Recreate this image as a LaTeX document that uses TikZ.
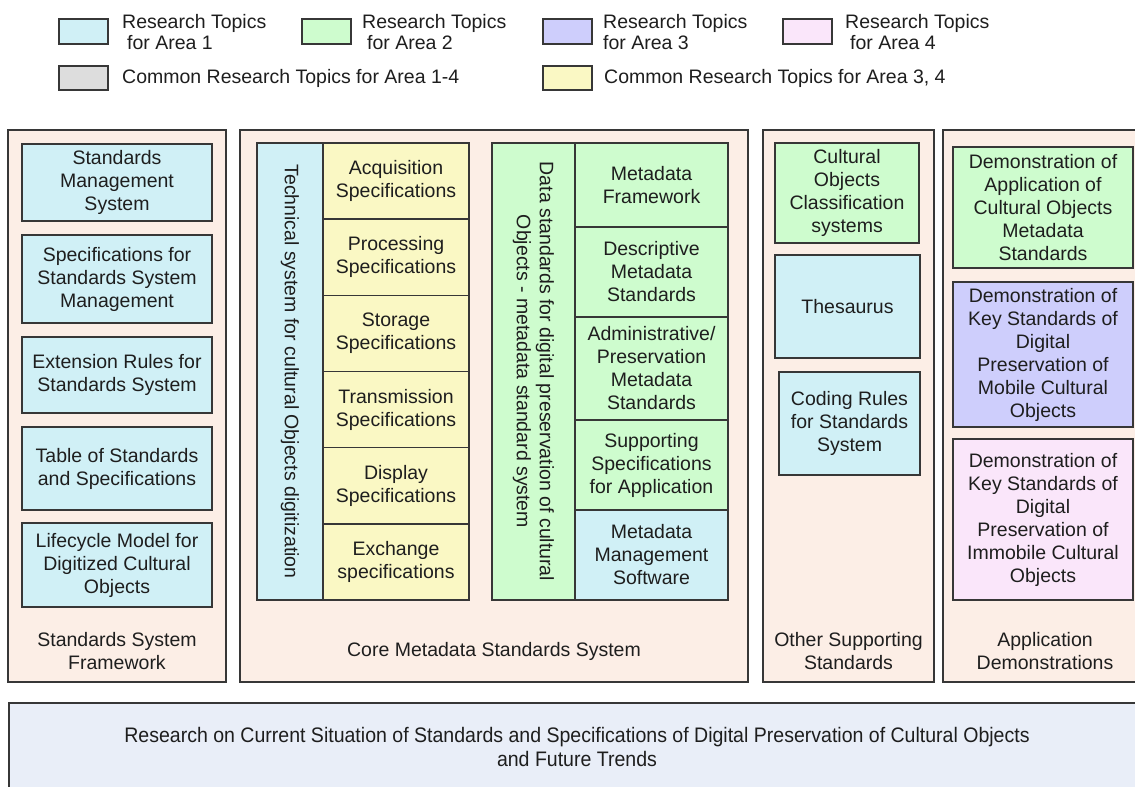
\documentclass[tikz,border=0pt]{standalone}
\usepackage{fontspec}
\setmainfont{Liberation Sans}
\newfontfamily\narrowfont[FakeStretch=0.93]{Liberation Sans}
\usetikzlibrary{positioning}

\definecolor{areaone}{RGB}{208,240,246}
\definecolor{areatwo}{RGB}{206,252,206}
\definecolor{areathree}{RGB}{206,206,252}
\definecolor{areafour}{RGB}{250,230,250}
\definecolor{commonall}{RGB}{221,221,221}
\definecolor{commonsome}{RGB}{250,248,196}
\definecolor{panelfill}{RGB}{252,238,230}
\definecolor{basefill}{RGB}{233,238,248}
\definecolor{edge}{RGB}{55,55,55}
\definecolor{ink}{RGB}{30,30,30}

\begin{document}
\begin{tikzpicture}[x=1pt, y=-1pt]
	\tikzstyle{Panel}	= [rectangle, draw=edge, line width=1.3pt, fill=panelfill, inner sep=0pt]
	\tikzstyle{Topic}	= [rectangle, draw=edge, line width=1.2pt, inner sep=2pt, align=center, text=ink, font=\fontsize{19.5}{23}\selectfont]
	\tikzstyle{Key}		= [rectangle, draw=edge, line width=1.2pt, minimum width=49, minimum height=25, inner sep=0pt]
	\tikzstyle{KeyText}	= [anchor=west, align=left, inner sep=0pt, text=ink, font=\fontsize{19.5}{21}\selectfont]
	\tikzstyle{Label}	= [align=center, inner sep=0pt, text=ink, font=\fontsize{19.5}{23}\selectfont]

	\fill [white] (0,0) rectangle (1135,787);
	\useasboundingbox (0,0) rectangle (1135,787);

	% legend
	\node (k1) at (83.5,31.5) [Key, fill=areaone] {};
	\node (k2) at (326.5,31.5) [Key, fill=areatwo] {};
	\node (k3) at (567.5,31.5) [Key, fill=areathree] {};
	\node (k4) at (807.5,31.5) [Key, fill=areafour] {};
	\node (kc) at (83.5,78) [Key, fill=commonall, minimum height=24] {};
	\node (ky) at (567.5,78) [Key, fill=commonsome, minimum height=24] {};

	\node (k1t) at (122,32.5) [KeyText] {Research Topics\\\hspace*{5pt}for Area 1};
	\node (k2t) at (362,32.5) [KeyText] {Research Topics\\\hspace*{5pt}for Area 2};
	\node (k3t) at (603,32.5) [KeyText] {Research Topics\\for Area 3};
	\node (k4t) at (845,32.5) [KeyText] {Research Topics\\\hspace*{5pt}for Area 4};
	\node (kct) at (122,78) [KeyText] {Common Research Topics for Area 1-4};
	\node (kyt) at (604,78) [KeyText] {Common Research Topics for Area 3, 4};

	% panels
	\node (p1) at (117,406) [Panel, minimum width=218, minimum height=552] {};
	\node (p2) at (494,406) [Panel, minimum width=508, minimum height=552] {};
	\node (p3) at (848.5,406) [Panel, minimum width=171, minimum height=552] {};
	\node (p4) at (1044,406) [Panel, minimum width=202, minimum height=552] {};

	% standards system framework
	\node (s1) at (117,182.5) [Topic, fill=areaone, minimum width=190, minimum height=77] {Standards\\Management\\System};
	\node (s2) at (117,279) [Topic, fill=areaone, minimum width=190, minimum height=88] {Specifications for\\Standards System\\Management};
	\node (s3) at (117,375) [Topic, fill=areaone, minimum width=190, minimum height=76] {Extension Rules for\\Standards System};
	\node (s4) at (117,468.5) [Topic, fill=areaone, minimum width=190, minimum height=83] {Table of Standards\\and Specifications};
	\node (s5) at (117,565) [Topic, fill=areaone, minimum width=190, minimum height=84] {Lifecycle Model for\\Digitized Cultural\\Objects};
	\node (p1l) at (117,651.5) [Label] {Standards System\\Framework};

	% core metadata standards system
	\node (tech) at (290,371.5) [Topic, fill=areaone, rotate=-90, minimum width=457, minimum height=66] {Technical system for cultural Objects digitization};
	\node (t1) at (396,181) [Topic, fill=commonsome, minimum width=146, minimum height=76] {Acquisition\\Specifications};
	\node (t2) at (396,257.2) [Topic, fill=commonsome, minimum width=146, minimum height=76] {Processing\\Specifications};
	\node (t3) at (396,333.4) [Topic, fill=commonsome, minimum width=146, minimum height=76] {Storage\\Specifications};
	\node (t4) at (396,409.6) [Topic, fill=commonsome, minimum width=146, minimum height=76] {Transmission\\Specifications};
	\node (t5) at (396,485.8) [Topic, fill=commonsome, minimum width=146, minimum height=76] {Display\\Specifications};
	\node (t6) at (396,562) [Topic, fill=commonsome, minimum width=146, minimum height=76] {Exchange\\specifications};

	\node (data) at (533.5,371.5) [Topic, fill=areatwo, rotate=-90, minimum width=457, minimum height=83] {Data standards for digital preservation of cultural\\Objects - metadata standard system};
	\node (m1) at (651.5,185) [Topic, fill=areatwo, minimum width=153, minimum height=84] {Metadata\\Framework};
	\node (m2) at (651.5,272) [Topic, fill=areatwo, minimum width=153, minimum height=90] {Descriptive\\Metadata\\Standards};
	\node (m3) at (651.5,368.5) [Topic, fill=areatwo, minimum width=153, minimum height=103] {Administrative/\\Preservation\\Metadata\\Standards};
	\node (m4) at (651.5,465) [Topic, fill=areatwo, minimum width=153, minimum height=90] {Supporting\\Specifications\\for Application};
	\node (m5) at (651.5,555) [Topic, fill=areaone, minimum width=153, minimum height=90] {Metadata\\Management\\Software};
	\node (p2l) at (494,651.5) [Label] {Core Metadata Standards System};

	% other supporting standards
	\node (o1) at (847,193) [Topic, fill=areatwo, minimum width=144, minimum height=100] {Cultural\\Objects\\Classification\\systems};
	\node (o2) at (847.5,306.5) [Topic, fill=areaone, minimum width=145, minimum height=103] {Thesaurus};
	\node (o3) at (849.5,423.5) [Topic, fill=areaone, minimum width=141, minimum height=103] {Coding Rules\\for Standards\\System};
	\node (p3l) at (848.5,651.5) [Label] {Other Supporting\\Standards};

	% application demonstrations
	\node (a1) at (1043,207.5) [Topic, fill=areatwo, minimum width=180, minimum height=121] {Demonstration of\\Application of\\Cultural Objects\\Metadata\\Standards};
	\node (a2) at (1043,354.5) [Topic, fill=areathree, minimum width=180, minimum height=145] {Demonstration of\\Key Standards of\\Digital\\Preservation of\\Mobile Cultural\\Objects};
	\node (a3) at (1043,519.5) [Topic, fill=areafour, minimum width=180, minimum height=161] {Demonstration of\\Key Standards of\\Digital\\Preservation of\\Immobile Cultural\\Objects};
	\node (p4l) at (1045,651.5) [Label] {Application\\Demonstrations};

	% base research
	\node (base) at (577,751.5) [Panel, fill=basefill, minimum width=1136, minimum height=97] {};
	\node (baset) at (577,747) [Label, font=\narrowfont\fontsize{21}{24}\selectfont] {Research on Current Situation of Standards and Specifications of Digital Preservation of Cultural Objects\\and Future Trends};
\end{tikzpicture}
\end{document}
